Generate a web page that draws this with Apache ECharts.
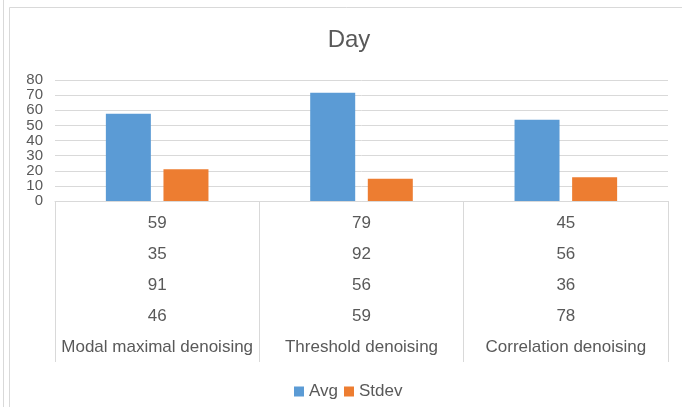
<!DOCTYPE html>
<html>
<head>
<meta charset="utf-8">
<script src="https://cdn.jsdelivr.net/npm/echarts@6/dist/echarts.min.js"></script>
<style>
  html, body { margin: 0; padding: 0; background: #fff; }
  #chart { width: 682px; height: 407px; }
</style>
</head>
<body>
<div id="chart"></div>
<script>
// Denoising methods compared on the "Day" recordings
const categories = ['Modal maximal denoising', 'Threshold denoising', 'Correlation denoising'];
const avgValues = [57.75, 71.5, 53.75];
const stdevValues = [20.99, 14.77, 15.69];
// Raw trial scores shown in the data table under each method
const trialRows = [
  [59, 79, 45],
  [35, 92, 56],
  [91, 56, 36],
  [46, 59, 78]
];
const yTicks = { min: 0, max: 80, interval: 10 };

const textColor = '#595959';
const lineColor = '#d9d9d9';
const fontFamily = '"Liberation Sans", Arial, sans-serif';

const chart = echarts.init(document.getElementById('chart'), null, { renderer: 'canvas' });

chart.setOption({
  animation: false,
  backgroundColor: '#ffffff',
  color: ['#5b9bd5', '#ed7d31'],
  textStyle: { fontFamily: fontFamily },
  title: {
    text: 'Day',
    left: 344,
    textAlign: 'center',
    top: 23,
    textStyle: { fontSize: 24, fontWeight: 'normal', color: textColor, fontFamily: fontFamily }
  },
  legend: {
    left: 289,
    top: 378,
    itemWidth: 10,
    itemHeight: 10,
    itemGap: 6,
    icon: 'rect',
    textStyle: { fontSize: 17, color: textColor, fontFamily: fontFamily },
    data: ['Avg', 'Stdev']
  },
  grid: { left: 55, right: 14, top: 80, bottom: 206, containLabel: false },
  xAxis: {
    type: 'category',
    data: categories,
    boundaryGap: true,
    axisLine: { show: true, lineStyle: { color: lineColor, width: 1 } },
    axisTick: { show: true, length: 161, alignWithLabel: false, lineStyle: { color: lineColor, width: 1 } },
    axisLabel: {
      interval: 0,
      margin: 7,
      verticalAlign: 'top',
      lineHeight: 31,
      fontSize: 17,
      color: textColor,
      fontFamily: fontFamily,
      formatter: function (value, index) {
        return trialRows.map(function (row) { return String(row[index]); }).concat(value).join('\n');
      }
    },
    splitLine: { show: false }
  },
  yAxis: {
    type: 'value',
    min: yTicks.min,
    max: yTicks.max,
    interval: yTicks.interval,
    axisLine: { show: false },
    axisTick: { show: false },
    axisLabel: {
      margin: 12,
      fontSize: 15,
      color: textColor,
      fontFamily: fontFamily
    },
    splitLine: { show: true, lineStyle: { color: lineColor, width: 1 } }
  },
  series: [
    { name: 'Avg', type: 'bar', data: avgValues, barWidth: 45, barGap: '28%' },
    { name: 'Stdev', type: 'bar', data: stdevValues, barWidth: 45, barGap: '28%' }
  ],
  graphic: [
    // chart frame (runs off the right and bottom edges)
    { type: 'rect', shape: { x: 9.5, y: 7.5, width: 700, height: 430 },
      style: { fill: 'none', stroke: lineColor, lineWidth: 1 }, silent: true, z: -1 },
    // page edge on the far left
    { type: 'line', shape: { x1: 3.5, y1: 0, x2: 3.5, y2: 407 },
      style: { stroke: lineColor, lineWidth: 1 }, silent: true, z: -1 }
  ]
});
</script>
</body>
</html>
